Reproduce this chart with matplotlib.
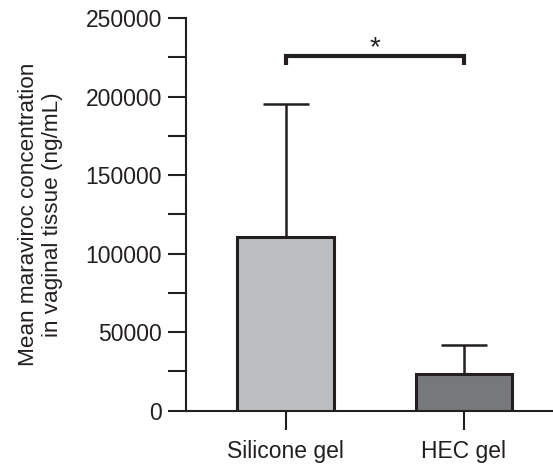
import matplotlib
matplotlib.use("Agg")
import matplotlib.pyplot as plt
from matplotlib.ticker import MultipleLocator

plt.rcParams['font.family'] = ['Liberation Sans', 'DejaVu Sans']

categories = ["Silicone gel", "HEC gel"]
means = [110600, 23200]
errors_upper = [84800, 18700]
bar_colors = ["#bcbdc0", "#77787b"]
sig_label = "*"
sig_height = 225800
sig_drop = 5500

fig = plt.figure(figsize=(5.53, 4.70), dpi=100)
ax = fig.add_axes([0.3358, 0.1262, 0.664, 0.8355])

x = list(range(len(categories)))
ink = "#231f20"
ax.bar(x, means, width=0.54, color=bar_colors, edgecolor=ink, linewidth=2.2, zorder=3)
ax.errorbar(x, means, yerr=[[0, 0], errors_upper], fmt='none', ecolor=ink,
            elinewidth=1.8, capsize=16.5, capthick=1.8, zorder=2)

# significance bracket
ax.plot([x[0], x[0], x[1], x[1]],
        [sig_height - sig_drop, sig_height, sig_height, sig_height - sig_drop],
        color=ink, linewidth=3, solid_capstyle='butt', solid_joinstyle='miter', clip_on=False)
ax.text((x[0] + x[1]) / 2, sig_height + 500, sig_label, ha='center', va='baseline',
        fontsize=20, color=ink)

ax.set_xlim(-0.56, 1.50)
ax.set_ylim(0, 250000)
ax.yaxis.set_major_locator(MultipleLocator(50000))
ax.yaxis.set_minor_locator(MultipleLocator(25000))
ax.set_xticks(x)
ax.set_xticklabels(categories)

for s in ['top', 'right']:
    ax.spines[s].set_visible(False)
for s in ['left', 'bottom']:
    ax.spines[s].set_linewidth(1.5)
    ax.spines[s].set_color(ink)

ax.tick_params(axis='y', which='both', direction='out', length=13, width=1.5,
               color=ink, labelsize=16.5, labelcolor=ink, pad=4)
ax.tick_params(axis='x', which='major', direction='out', length=14, width=1.5,
               color=ink, labelsize=16.5, labelcolor=ink, pad=7)

ax.set_ylabel("Mean maraviroc concentration\nin vaginal tissue (ng/mL)",
              fontsize=16.2, color=ink, linespacing=1.15)
ax.yaxis.set_label_coords(-0.335, 0.5)

fig.savefig("out.png", dpi=100)
